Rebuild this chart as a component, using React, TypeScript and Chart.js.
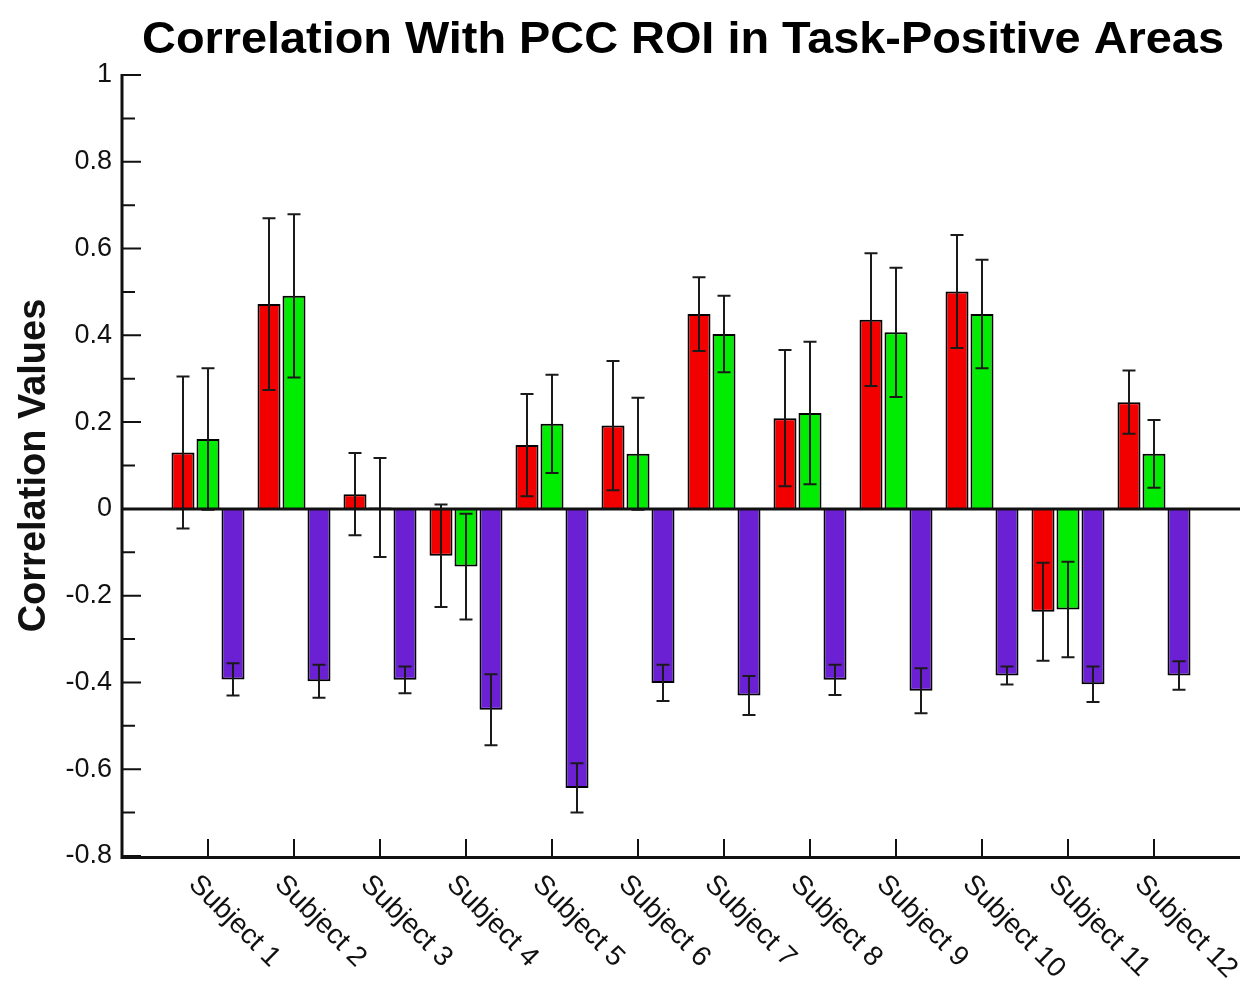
import React, { useEffect, useRef } from 'react';
import { Chart, registerables } from 'chart.js';

Chart.register(...registerables);

const TITLE = 'Correlation With PCC ROI in Task-Positive Areas';
const Y_TITLE = 'Correlation Values';
const subjects = [
  'Subject 1', 'Subject 2', 'Subject 3', 'Subject 4', 'Subject 5', 'Subject 6',
  'Subject 7', 'Subject 8', 'Subject 9', 'Subject 10', 'Subject 11', 'Subject 12',
];
const redValues = [0.13, 0.472, 0.034, -0.108, 0.147, 0.192, 0.449, 0.209, 0.436, 0.501, -0.237, 0.246];
const redErrors = [0.175, 0.198, 0.095, 0.118, 0.118, 0.149, 0.085, 0.157, 0.153, 0.13, 0.113, 0.073];
const greenValues = [0.161, 0.491, 0.003, -0.133, 0.196, 0.127, 0.403, 0.221, 0.407, 0.449, -0.232, 0.127];
const greenErrors = [0.163, 0.188, 0.114, 0.122, 0.113, 0.129, 0.088, 0.164, 0.149, 0.125, 0.11, 0.078];
const purpleValues = [-0.393, -0.397, -0.394, -0.463, -0.643, -0.401, -0.43, -0.394, -0.419, -0.384, -0.404, -0.384];
const purpleErrors = [0.037, 0.038, 0.031, 0.082, 0.057, 0.042, 0.045, 0.035, 0.052, 0.021, 0.041, 0.033];
const Y_MIN = -0.8;
const Y_MAX = 1;
const Y_STEP = 0.2;

const FONT = '"Liberation Sans", Arial, Helvetica, sans-serif';
const W = 1242;
const H = 971;

function pad<T>(arr: T[]): (T | null)[] {
  return [null, ...arr, null];
}

const decorPlugin = {
  id: 'decor',
  afterDatasetsDraw(chart: any) {
    const { ctx, chartArea, scales } = chart;
    const { left, right, top, bottom } = chartArea;
    const x = scales.x;
    const y = scales.y;
    ctx.save();

    // error bars
    chart.data.datasets.forEach((ds: any, di: number) => {
      const meta = chart.getDatasetMeta(di);
      meta.data.forEach((bar: any, i: number) => {
        const v = ds.data[i];
        const e = ds.errors[i];
        if (v == null || e == null) return;
        const cx = bar.x;
        const y1 = y.getPixelForValue(v + e);
        const y2 = y.getPixelForValue(v - e);
        ctx.strokeStyle = '#1a1a1a';
        ctx.lineWidth = 2;
        ctx.beginPath();
        ctx.moveTo(cx, y1);
        ctx.lineTo(cx, y2);
        ctx.moveTo(cx - 6.5, y1);
        ctx.lineTo(cx + 6.5, y1);
        ctx.moveTo(cx - 6.5, y2);
        ctx.lineTo(cx + 6.5, y2);
        ctx.stroke();
      });
    });

    // zero line
    const y0 = y.getPixelForValue(0);
    ctx.strokeStyle = '#111';
    ctx.lineWidth = 3;
    ctx.beginPath();
    ctx.moveTo(left, y0);
    ctx.lineTo(right, y0);
    ctx.stroke();

    // axes
    ctx.beginPath();
    ctx.moveTo(left, top - 1);
    ctx.lineTo(left, bottom + 1.5);
    ctx.lineTo(right, bottom + 1.5);
    ctx.stroke();

    // y ticks (major + minor), pointing inward
    ctx.lineWidth = 2;
    const tv = y.ticks.map((t: any) => t.value);
    ctx.beginPath();
    tv.forEach((v: number, i: number) => {
      const py = y.getPixelForValue(v);
      ctx.moveTo(left, py);
      ctx.lineTo(left + 19, py);
      if (i < tv.length - 1) {
        const pm = y.getPixelForValue((v + tv[i + 1]) / 2);
        ctx.moveTo(left, pm);
        ctx.lineTo(left + 13, pm);
      }
    });
    // x ticks pointing upward
    subjects.forEach((_, i) => {
      const px = x.getPixelForValue(i + 1);
      ctx.moveTo(px, bottom);
      ctx.lineTo(px, bottom - 17);
    });
    ctx.stroke();

    // x labels rotated
    ctx.fillStyle = '#111';
    ctx.font = `28px ${FONT}`;
    ctx.textAlign = 'left';
    ctx.textBaseline = 'middle';
    subjects.forEach((label, i) => {
      const px = x.getPixelForValue(i + 1);
      ctx.save();
      ctx.translate(px - 15, bottom + 24);
      ctx.rotate(Math.PI / 4);
      ctx.fillText(label, 0, 0);
      ctx.restore();
    });

    // title
    ctx.font = `bold 44px ${FONT}`;
    ctx.textAlign = 'center';
    ctx.textBaseline = 'alphabetic';
    ctx.fillStyle = '#000';
    ctx.save();
    ctx.translate((left + right) / 2 + 2, 45);
    ctx.scale(1.065, 1);
    ctx.fillText(TITLE, 0, 0);
    ctx.restore();

    ctx.restore();
  },
};

export default function App() {
  const ref = useRef<HTMLCanvasElement | null>(null);
  useEffect(() => {
    if (!ref.current) return;
    const labels = ['', ...subjects, ''];
    const common = {
      borderColor: '#000',
      borderWidth: 2,
      categoryPercentage: 0.872,
      barPercentage: 0.92,
    };
    const chart = new Chart(ref.current, {
      type: 'bar',
      data: {
        labels,
        datasets: [
          { label: 'Red', data: pad(redValues), errors: pad(redErrors), backgroundColor: '#f20000', ...common } as any,
          { label: 'Green', data: pad(greenValues), errors: pad(greenErrors), backgroundColor: '#00ec00', ...common } as any,
          { label: 'Purple', data: pad(purpleValues), errors: pad(purpleErrors), backgroundColor: '#6c20d4', ...common } as any,
        ],
      },
      options: {
        animation: false,
        responsive: false,
        maintainAspectRatio: false,
        layout: { padding: { top: 67, right: 10, left: 0, bottom: 0 } },
        plugins: {
          legend: { display: false },
          title: { display: false },
          tooltip: { enabled: false },
        },
        scales: {
          x: {
            type: 'category',
            offset: false,
            grid: { display: false, drawTicks: false },
            border: { display: false },
            ticks: { display: false },
            afterFit: (s: any) => { s.height = 123; },
          },
          y: {
            min: Y_MIN,
            max: Y_MAX,
            grid: { display: false, drawTicks: false },
            border: { display: false },
            ticks: {
              stepSize: Y_STEP,
              padding: 10,
              color: '#111',
              font: { family: FONT, size: 27 },
              callback: (v: any) => String(Number(Number(v).toFixed(1))),
            },
            title: {
              display: true,
              text: Y_TITLE,
              color: '#111',
              font: { family: FONT, size: 38, weight: 'bold', lineHeight: 1 },
              padding: { top: 8, bottom: 0 },
            },
            afterFit: (s: any) => { s.width = 114; },
          },
        },
      },
      plugins: [decorPlugin],
    } as any);
    return () => chart.destroy();
  }, []);
  return (
    <div style={{ width: W, height: H }}>
      <canvas ref={ref} width={W} height={H} style={{ display: 'block', width: W, height: H }} />
    </div>
  );
}
